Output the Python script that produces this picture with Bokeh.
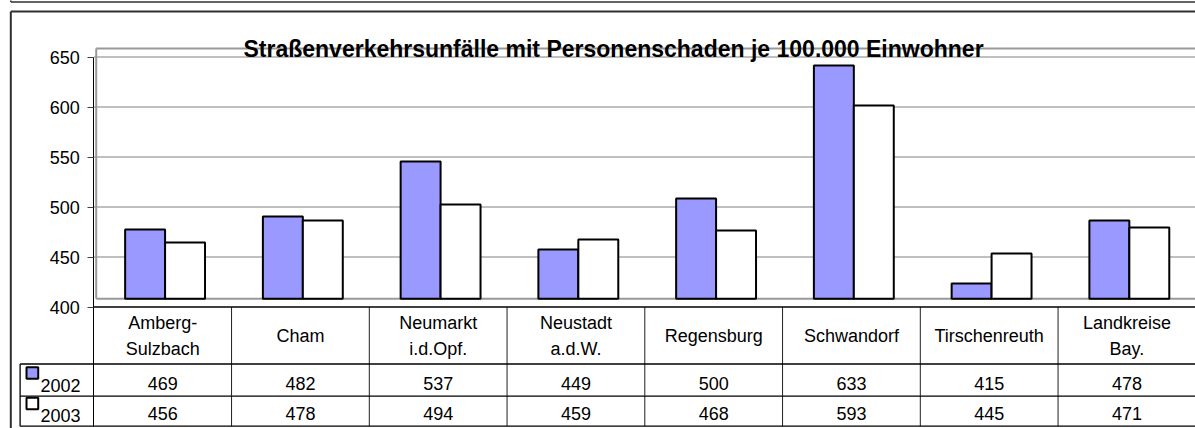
import numpy as np
from bokeh.plotting import figure
from bokeh.models import Range1d, FixedTicker, LinearAxis, Label
from bokeh.core.properties import value
from bokeh.embed import file_html
from bokeh.resources import INLINE

# ---- data ----
categories = ["Amberg-\nSulzbach", "Cham", "Neumarkt\ni.d.Opf.", "Neustadt\na.d.W.",
              "Regensburg", "Schwandorf", "Tirschenreuth", "Landkreise\nBay."]
series_names = ["2002", "2003"]
v2002 = [469, 482, 537, 449, 500, 633, 415, 478]
v2003 = [456, 478, 494, 459, 468, 593, 445, 471]
y_ticks = [400, 450, 500, 550, 600, 650]
title = "Straßenverkehrsunfälle mit Personenschaden je 100.000 Einwohner"

# ---- style / layout ----
W, H = 1195, 428
FONT = value("Liberation Sans")
FS = "18px"
C2002 = "#9999FF"
C2003 = "#FFFFFF"
CAT_PX = 137.75      # pixel width of one category
X0_PX = 93.3         # pixel position of the value axis
DEPTH = 8.5          # 3-D depth shift of the back wall (value units)
DX = 0.0175          # 3-D depth shift (category units)
BAR_W = 0.29
FLOOR = 408.2
TABLE_ROWS = [400, 343.0, 310.8, 280.8]
LEG_X = -0.535
BORDER_X = -0.6025
BORDER_Y = 695.5
PREV_Y = 705.0

n = len(categories)
xc = np.arange(n) + 0.5

p = figure(width=W, height=H,
           x_range=Range1d(-X0_PX / CAT_PX, (W - X0_PX) / CAT_PX),
           y_range=Range1d(278.5, 706.5),
           output_backend="svg", toolbar_location=None,
           x_axis_type=None, y_axis_type=None,
           min_border_left=0, min_border_right=0, min_border_top=0, min_border_bottom=0)
p.outline_line_color = None
p.background_fill_color = "white"
p.border_fill_color = "white"

# value axis, fixed at the start of the category area
ax = LinearAxis(fixed_location=0)
ax.ticker = FixedTicker(ticks=y_ticks)
ax.bounds = (TABLE_ROWS[-1], y_ticks[-1])
ax.axis_line_color = "black"
ax.axis_line_width = 1
ax.major_tick_in = 0
ax.major_tick_out = 6
ax.minor_tick_out = 0
ax.minor_tick_in = 0
ax.major_tick_line_color = "#404040"
ax.major_label_text_font = "Liberation Sans"
ax.major_label_text_font_size = FS
ax.major_label_text_color = "black"
ax.major_label_standoff = 8
p.add_layout(ax, "left")

# gridlines
gy = y_ticks[1:]
p.segment(x0=[0] * len(gy), y0=gy, x1=[n] * len(gy), y1=gy, line_color="#808080", line_width=1)

# back wall (gray plot-area frame shifted by depth)
top_wall = y_ticks[-1] + DEPTH
p.segment(x0=[DX, DX, DX], y0=[top_wall, top_wall, FLOOR],
          x1=[n + 0.2, DX, n + 0.2], y1=[top_wall, FLOOR, FLOOR],
          line_color="#999999", line_width=2)

# bars
p.vbar(x=xc - 0.145 + DX, width=BAR_W, bottom=FLOOR, top=np.array(v2002) + DEPTH,
       fill_color=C2002, line_color="black", line_width=2)
p.vbar(x=xc + 0.145 + DX, width=BAR_W, bottom=FLOOR, top=np.array(v2003) + DEPTH,
       fill_color=C2003, line_color="black", line_width=2)

# data table grid
p.segment(x0=np.arange(1, n), y0=TABLE_ROWS[0], x1=np.arange(1, n), y1=TABLE_ROWS[-1],
          line_color="#202020", line_width=1)
p.segment(x0=[0], y0=[TABLE_ROWS[0]], x1=[n], y1=[TABLE_ROWS[0]], line_color="black", line_width=1.3)
p.segment(x0=[LEG_X] * 3, y0=TABLE_ROWS[1:], x1=[n] * 3, y1=TABLE_ROWS[1:],
          line_color="black", line_width=1.3)
p.segment(x0=[LEG_X], y0=[TABLE_ROWS[1]], x1=[LEG_X], y1=[TABLE_ROWS[-1]],
          line_color="black", line_width=1.3)

# chart outer border and the edge of the box above
p.segment(x0=[BORDER_X, BORDER_X], y0=[BORDER_Y, BORDER_Y], x1=[n, BORDER_X], y1=[BORDER_Y, 270],
          line_color="#303030", line_width=2)
p.segment(x0=[BORDER_X, BORDER_X], y0=[PREV_Y, PREV_Y], x1=[n, BORDER_X], y1=[PREV_Y, 720],
          line_color="#303030", line_width=1.5)

# table texts
p.text(x=xc, y=[371.4] * n, text=categories, text_align="center", text_baseline="middle",
       text_font=FONT, text_font_size=FS, text_line_height=1.3, text_color="black")
p.text(x=xc, y=[323.7] * n, text=[str(v) for v in v2002], text_align="center", text_baseline="middle",
       text_font=FONT, text_font_size=FS, text_color="black")
p.text(x=xc, y=[293.7] * n, text=[str(v) for v in v2003], text_align="center", text_baseline="middle",
       text_font=FONT, text_font_size=FS, text_color="black")

# legend keys in the table
p.quad(left=[-0.4885, -0.4885], right=[-0.4035, -0.4035], top=[339.8, 309.2], bottom=[328.3, 297.7],
       fill_color=[C2002, C2003], line_color="black", line_width=2)
p.text(x=[-0.387, -0.387], y=[322.0, 292.0], text=series_names, text_align="left", text_baseline="middle",
       text_font=FONT, text_font_size=FS, text_color="black")

# title
p.add_layout(Label(x=3.773, y=658.5, text=title, text_align="center", text_baseline="alphabetic",
                   text_font="Liberation Sans", text_font_size="23px", text_font_style="bold",
                   text_color="black"))

open("out.html", "w").write(file_html(p, INLINE))
